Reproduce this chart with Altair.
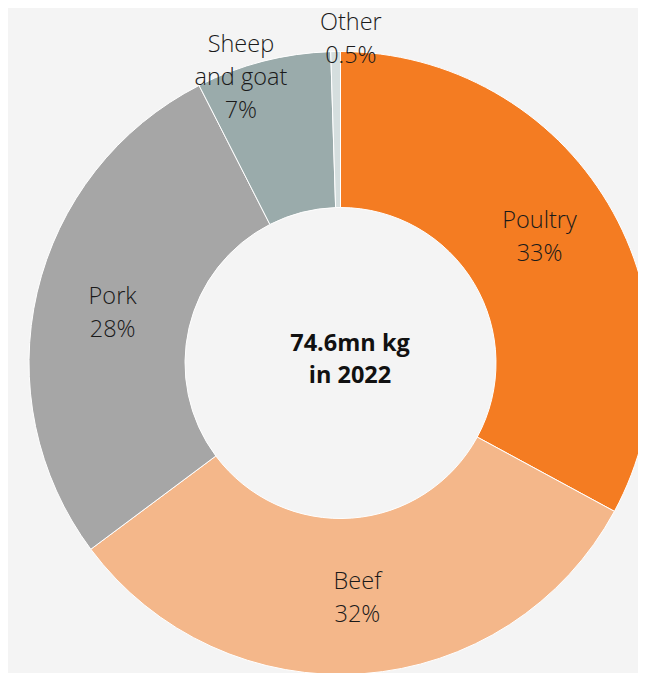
import altair as alt
import pandas as pd

categories = ["Poultry", "Beef", "Pork", "Sheep and goat", "Other"]
shares = [32.9, 31.9, 27.7, 7.0, 0.5]
label_texts = ["Poultry\n33%", "Beef\n32%", "Pork\n28%", "Sheep\nand goat\n7%", "Other\n0.5%"]
colors = ["#f47c22", "#f4b78a", "#a6a6a6", "#9aabab", "#d5dede"]
center_text = "74.6mn kg\nin 2022"

df = pd.DataFrame({
    "category": categories,
    "share": shares,
    "label": label_texts,
    "idx": list(range(len(categories))),
})

CX, CY = 332.5, 355
R_OUT, R_IN = 311.5, 155.5
FONT = "Open Sans"

base = alt.Chart(df).encode(
    theta=alt.Theta("share:Q", stack=True),
    order=alt.Order("idx:Q"),
    x=alt.value(CX),
    y=alt.value(CY),
)

arcs = base.mark_arc(
    outerRadius=R_OUT, innerRadius=R_IN, stroke="#ffffff", strokeWidth=1
).encode(
    color=alt.Color("category:N", scale=alt.Scale(domain=categories, range=colors), legend=None)
)

def label_layer(cat, radius, dx=0, dy=0):
    return base.transform_calculate(
        lab="datum.category == '" + cat + "' ? datum.label : ''"
    ).mark_text(
        font=FONT, fontSize=23.5, fontWeight=300, color="#1a1a1a", lineBreak="\n", lineHeight=33,
        align="center", baseline="middle", radius=radius, dx=dx, dy=dy
    ).encode(text="lab:N")

labels = [
    label_layer("Poultry", 234, dx=-2, dy=-22.5),
    label_layer("Beef", 234, dx=0, dy=-14),
    label_layer("Pork", 234, dx=0, dy=-12.5),
    label_layer("Sheep and goat", 304, dx=-24, dy=-24),
    label_layer("Other", 328, dx=15.5, dy=-12),
]

center = alt.Chart(pd.DataFrame({"t": [center_text]})).mark_text(
    font=FONT, fontSize=23.5, fontWeight="bold", color="#111111", lineBreak="\n",
    lineHeight=32, align="center", baseline="middle", dx=9.5, dy=-19
).encode(text="t:N", x=alt.value(CX), y=alt.value(CY))

chart = alt.layer(arcs, *labels, center).properties(
    width=630, height=665, autosize=alt.AutoSizeParams(type="none"), padding=0,
    background="#f4f4f4"
).configure_view(stroke=None)

chart.save("out.html", embed_options={"renderer": "svg", "actions": False})
